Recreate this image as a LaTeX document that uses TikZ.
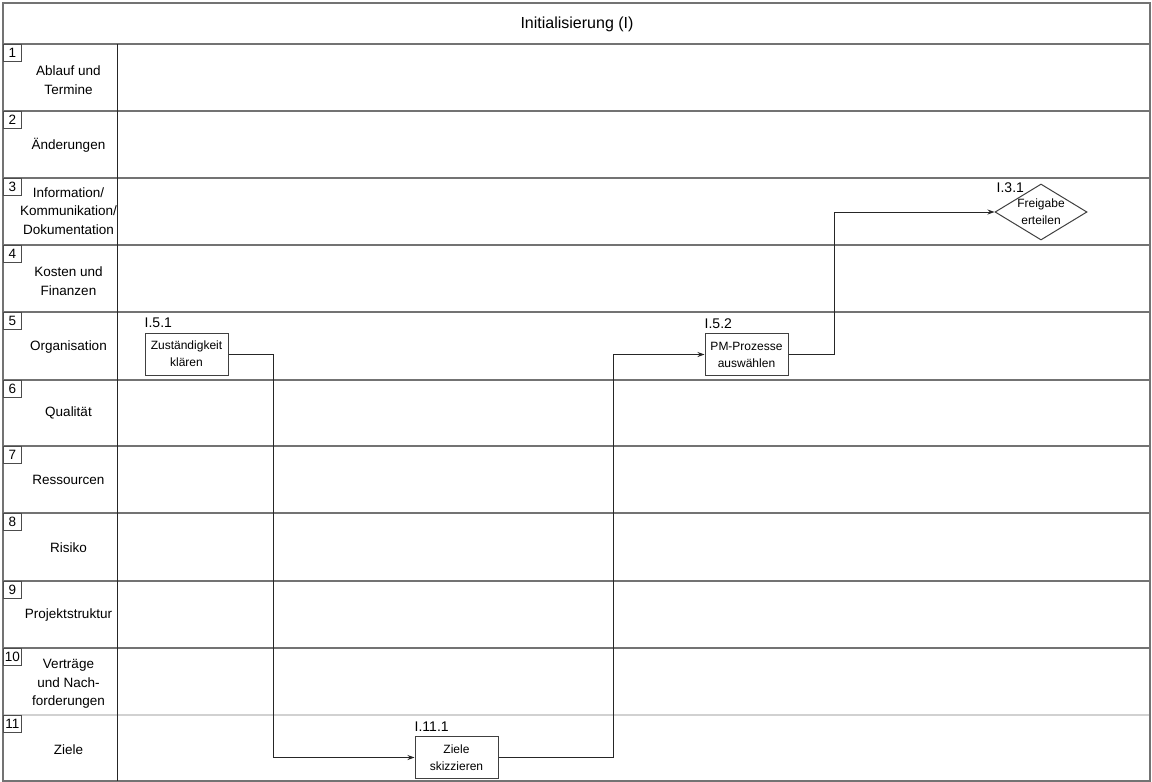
\documentclass[tikz,border=0pt]{standalone}
\usepackage{fontspec}
\setmainfont{Liberation Sans}
\usetikzlibrary{shapes.geometric,arrows.meta}
\begin{document}
\begin{tikzpicture}[x=1pt,y=-1pt,
  gridline/.style={draw=black!55,line width=1.3pt},
  lightline/.style={draw=black!18,line width=1.2pt},
  colline/.style={draw=black!85,line width=1pt},
  numbox/.style={draw=black!70,line width=0.8pt,minimum width=18pt,minimum height=17pt,inner sep=0pt,anchor=north west,font=\fontsize{13.5}{13.5}\selectfont},
  rowlab/.style={align=center,inner sep=0pt,font=\fontsize{13.5}{18.5}\selectfont},
  proc/.style={draw=black!75,line width=1pt,minimum width=83pt,minimum height=42pt,align=center,inner sep=0pt,font=\fontsize{12}{17}\selectfont},
  dec/.style={draw=black!75,line width=1pt,shape=diamond,aspect=1.64,minimum width=92pt,minimum height=56pt,align=center,inner sep=0pt,font=\fontsize{12}{17}\selectfont},
  idlab/.style={anchor=base west,inner sep=0pt,font=\fontsize{14}{14}\selectfont},
  flow/.style={draw=black!85,line width=0.9pt,-{Stealth[length=7pt,width=5pt]}},
  titlefont/.style={font=\fontsize{16}{16}\selectfont}]
\useasboundingbox (0,0) rectangle (1152,782);
\fill[white] (0,0) rectangle (1152,782);
% outer frame and title
\draw[gridline] (3,3) rectangle (1150,781);
\node[titlefont] (title) at (577,24) {Initialisierung (I)};
% horizontal row lines
\foreach \yy in {44,111,178,245,312,380,446,513,581,648,781}
  \draw[gridline] (3,\yy) -- (1150,\yy);
\draw[lightline] (4,715) -- (1149,715);
% label column line
\draw[colline] (117,44) -- (117,781);
% number boxes and row labels
\foreach \i/\top/\cy/\txt in {
  1/44/80/{Ablauf und\\Termine},
  2/111/145/{Änderungen},
  3/178/211/{Information/\\Kommunikation/\\Dokumentation},
  4/245/281/{Kosten und\\Finanzen},
  5/312/347/{Organisation},
  6/380/413/{Qualität},
  7/446/480/{Ressourcen},
  8/513/548/{Risiko},
  9/581/615/{Projektstruktur},
  10/648/684/{Verträge\\und Nach-\\forderungen},
  11/715/750/{Ziele}}{
  \node[numbox] (num\i) at (3,\top) {\i};
  \node[rowlab] (lab\i) at (68.5,\cy) {\txt};
}
% process nodes
\node[proc] (p51) at (186.5,354) {Zuständigkeit\\klären};
\node[proc] (p111) at (456.5,757.5) {Ziele\\skizzieren};
\node[proc] (p52) at (746.5,354.5) {PM-Prozesse\\auswählen};
\node[dec] (d31) at (1041,212) {Freigabe\\erteilen};
% id labels
\node[idlab] (l51) at ([yshift=5pt]p51.north west) {I.5.1};
\node[idlab] (l111) at ([yshift=5pt]p111.north west) {I.11.1};
\node[idlab] (l52) at ([yshift=5pt]p52.north west) {I.5.2};
\node[idlab] (l31) at ([xshift=2pt,yshift=20pt]d31.west) {I.3.1};
% connectors
\draw[flow] (p51.east) -- ++(45,0) |- (p111.west);
\draw[flow] (p111.east) -- ++(115,0) |- (p52.west);
\draw[flow] (p52.east) -- ++(46,0) |- (d31.west);
\end{tikzpicture}
\end{document}
